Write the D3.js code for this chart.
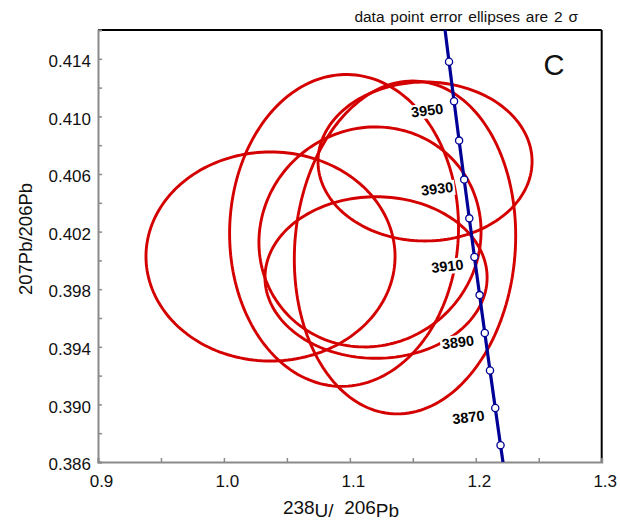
<!DOCTYPE html>
<html><head><meta charset="utf-8">
<script src="https://cdn.jsdelivr.net/npm/d3@7"></script>
<style>body{margin:0;background:#fff} svg{display:block}</style>
</head><body><svg id="c" width="620" height="522"></svg>
<script>
// ---- data ----
const xTickValues = [0.9, 1.0, 1.1, 1.2, 1.3];
const xMinorTicks = [0.95, 1.05, 1.15, 1.25];
const yTickValues = [0.386, 0.390, 0.394, 0.398, 0.402, 0.406, 0.410, 0.414];
const yMinorTicks = [0.388, 0.392, 0.396, 0.400, 0.404, 0.408, 0.412];

const concAges = [3970, 3960, 3950, 3940, 3930, 3920, 3910, 3900, 3890, 3880, 3870, 3860, 3850];
const concX = [1.17478, 1.17876, 1.18275, 1.18676, 1.19080, 1.19486, 1.19894, 1.20304, 1.20716, 1.21130, 1.21547, 1.21966, 1.22387];
const concY = [0.41657, 0.41380, 0.41105, 0.40832, 0.40561, 0.40292, 0.40024, 0.39759, 0.39496, 0.39235, 0.38975, 0.38717, 0.38461];
const markerAges = [3960, 3950, 3940, 3930, 3920, 3910, 3900, 3890, 3880, 3870, 3860];
const labelAges = [3950, 3930, 3910, 3890, 3870];

const ellipseNames = ["A", "B", "C", "D", "E", "F"];
const ellCX = [1.0370, 1.0954, 1.1160, 1.1597, 1.1208, 1.1438];
const ellCY = [0.40027, 0.40208, 0.40163, 0.40687, 0.39881, 0.40090];
const ellSX = [0.0989, 0.0909, 0.0882, 0.0850, 0.0882, 0.0879];
const ellSY = [0.00726, 0.01083, 0.00764, 0.00552, 0.00561, 0.01156];
const ellRho = [0.0, 0.02, 0.05, 0.0, 0.0, 0.07];

const titleText = "data point error ellipses are 2 \u03c3";
const panelLabel = "C";

// ---- layout ----
const L = 98, R = 601.7, T = 30, B = 462;
const svg = d3.select("#c");
const x = d3.scaleLinear().domain([0.9, 1.3]).range([L, R]);
const y = d3.scaleLinear().domain([0.386, 0.416]).range([B, T]);
const FONT = "'Liberation Sans', Arial, sans-serif";
const RED = "#d40000", BLUE = "#000096", GREY = "#8a8a8a";

svg.append("defs").append("clipPath").attr("id", "plotclip")
  .append("rect").attr("x", L).attr("y", T).attr("width", R - L).attr("height", B - T);

// frame: top & right black
svg.append("line").attr("x1", L).attr("x2", R).attr("y1", T).attr("y2", T)
  .attr("stroke", "#000").attr("stroke-width", 2);
svg.append("line").attr("x1", R).attr("x2", R).attr("y1", T).attr("y2", B)
  .attr("stroke", "#000").attr("stroke-width", 2);

// axes
function styleAxis(g) {
  g.select(".domain").attr("stroke", GREY).attr("stroke-width", 2);
  g.selectAll(".tick line").attr("stroke", GREY).attr("stroke-width", 1.5);
  g.selectAll(".tick text").attr("fill", "#111").style("font-family", FONT).style("font-size", "17px");
}
const gx = svg.append("g").attr("transform", `translate(0,${B})`)
  .call(d3.axisBottom(x).tickValues(xTickValues).tickSize(-4).tickPadding(13).tickFormat(d3.format(".1f")));
styleAxis(gx);
gx.selectAll(".tick text").attr("dx", "3");
const gxm = svg.append("g").attr("transform", `translate(0,${B})`)
  .call(d3.axisBottom(x).tickValues(xMinorTicks).tickSize(-4).tickFormat(""));
styleAxis(gxm);
gxm.select(".domain").remove();

const gy = svg.append("g").attr("transform", `translate(${L},0)`)
  .call(d3.axisLeft(y).tickValues(yTickValues).tickSize(-4).tickPadding(7).tickFormat(d3.format(".3f")));
styleAxis(gy);
gy.selectAll(".tick text").attr("dy", "0.45em");
const gym = svg.append("g").attr("transform", `translate(${L},0)`)
  .call(d3.axisLeft(y).tickValues(yMinorTicks).tickSize(-4).tickFormat(""));
styleAxis(gym);
gym.select(".domain").remove();

// axis titles
svg.append("text").attr("transform", `translate(32,239) rotate(-90)`)
  .attr("text-anchor", "middle").style("font-family", FONT).style("font-size", "18.5px").attr("fill", "#111")
  .text("207Pb/206Pb");
const xt = svg.append("text").attr("x", 341).attr("y", 517).attr("text-anchor", "middle")
  .style("font-family", FONT).style("font-size", "19px").attr("fill", "#111");
xt.append("tspan").attr("dy", -3).text("238");
xt.append("tspan").attr("dy", 3).text("U/\u00a0\u00a0");
xt.append("tspan").attr("dy", -3).text("206");
xt.append("tspan").attr("dy", 3).text("Pb");

// title and panel letter
svg.append("text").attr("x", 578).attr("y", 22).attr("text-anchor", "end")
  .style("font-family", FONT).style("font-size", "15.5px").style("word-spacing", "1.5px").attr("fill", "#111")
  .text(titleText);
svg.append("text").attr("x", 554).attr("y", 75).attr("text-anchor", "middle")
  .style("font-family", FONT).style("font-size", "29px").attr("fill", "#111")
  .text(panelLabel);

// ellipses
const plot = svg.append("g").attr("clip-path", "url(#plotclip)");
const nPts = 180;
const ellData = ellipseNames.map((n, i) => {
  const pts = [];
  const s = Math.sqrt(1 - ellRho[i] * ellRho[i]);
  for (let k = 0; k < nPts; k++) {
    const t = 2 * Math.PI * k / nPts;
    pts.push([ellCX[i] + ellSX[i] * Math.cos(t),
              ellCY[i] + ellSY[i] * (ellRho[i] * Math.cos(t) + s * Math.sin(t))]);
  }
  return { name: n, pts };
});
const ellLine = d3.line().x(d => x(d[0])).y(d => y(d[1])).curve(d3.curveLinearClosed);
plot.selectAll("path.ell").data(ellData).join("path").attr("class", "ell")
  .attr("d", d => ellLine(d.pts)).attr("fill", "none").attr("stroke", RED).attr("stroke-width", 2.9);

// age labels (white background boxes)
const ageIdx = a => concAges.indexOf(a);
const lab = plot.selectAll("g.lab").data(labelAges).join("g").attr("class", "lab")
  .attr("transform", a => `translate(${x(concX[ageIdx(a)]) - 27},${y(concY[ageIdx(a)]) + 9}) rotate(-7)`);
lab.append("rect");
lab.append("text").attr("text-anchor", "middle").attr("dy", "0.36em")
  .style("font-family", FONT).style("font-size", "14.5px").style("font-weight", "bold").attr("fill", "#000")
  .text(a => a);
lab.each(function () {
  const g = d3.select(this);
  const bb = g.select("text").node().getBBox();
  g.select("rect").attr("x", bb.x - 1.5).attr("y", bb.y + 1).attr("width", bb.width + 3).attr("height", bb.height - 1)
    .attr("fill", "#fff");
});

// concordia
const concLine = d3.line().x((d, i) => x(concX[i])).y((d, i) => y(concY[i]));
svg.append("path").attr("d", concLine(concAges)).attr("fill", "none")
  .attr("stroke", BLUE).attr("stroke-width", 3.2).attr("clip-path", "url(#plotclip)");
svg.selectAll("circle.m").data(markerAges).join("circle").attr("class", "m")
  .attr("cx", a => x(concX[ageIdx(a)])).attr("cy", a => y(concY[ageIdx(a)]))
  .attr("r", 3.6).attr("fill", "#fff").attr("stroke", BLUE).attr("stroke-width", 1.3);
</script></body></html>
